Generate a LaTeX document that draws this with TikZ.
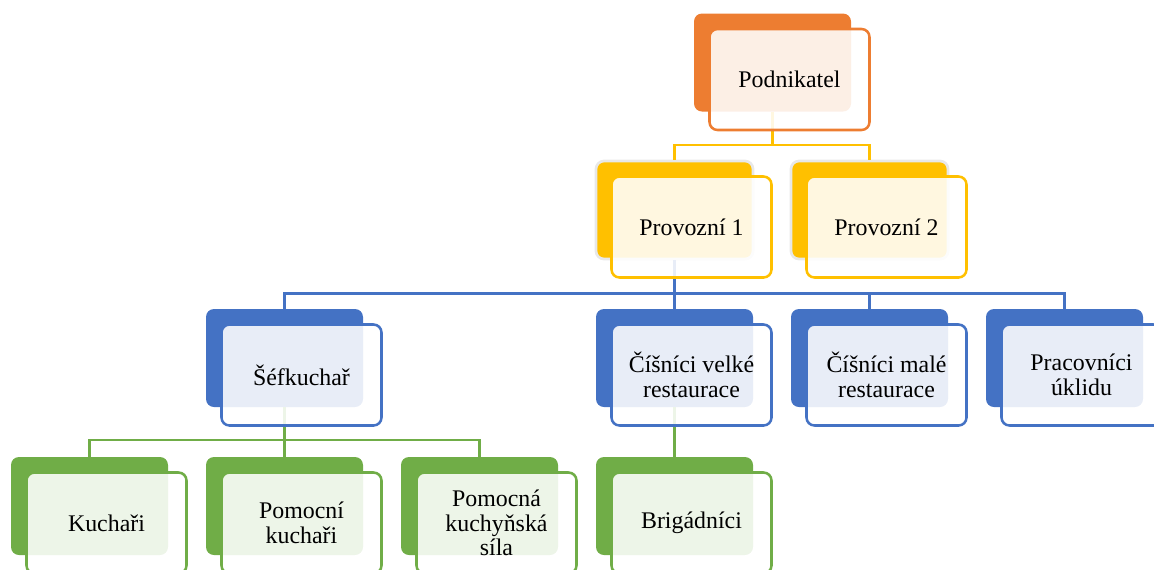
\documentclass[tikz,border=0pt]{standalone}
\usepackage{fontspec}
\setmainfont{Liberation Serif}
\usetikzlibrary{positioning, calc}
\definecolor{bossorange}{RGB}{237, 125, 49}
\definecolor{leadgold}{RGB}{255, 192, 0}
\definecolor{staffblue}{RGB}{68, 114, 196}
\definecolor{crewgreen}{RGB}{112, 173, 71}

\begin{document}
\begin{tikzpicture}[
    x=0.75pt, y=-0.75pt,
    back/.style={rectangle, rounded corners=6pt, fill=#1, draw=none,
                 minimum width=117.75pt, minimum height=73.5pt, inner sep=0pt},
    front/.style={rectangle, rounded corners=6pt, draw=#1, fill=white,
                  fill opacity=0.88, text opacity=1, line width=1.9pt,
                  minimum width=120pt, minimum height=75.75pt, inner sep=0pt,
                  align=center, font=\fontsize{17.9}{18.6}\selectfont},
    halo/.style={draw=gray!18, line width=2pt},
    link/.style={draw=#1, line width=1.8pt}
]
    \path[use as bounding box, clip] (0,0) rectangle (1154,569);

    % Back plates
    \node[back=bossorange] (ownerbg) at (772.5, 62.5) {};
    \node[back=leadgold, halo] (op1bg) at (674.5, 210) {};
    \node[back=leadgold, halo] (op2bg) at (869.5, 210) {};
    \node[back=staffblue] (chefbg) at (284.5, 358) {};
    \node[back=staffblue] (waitbigbg) at (674.5, 358) {};
    \node[back=staffblue] (waitsmallbg) at (869.5, 358) {};
    \node[back=staffblue] (cleanbg) at (1064.5, 358) {};
    \node[back=crewgreen] (cooksbg) at (89.5, 506) {};
    \node[back=crewgreen] (helpersbg) at (284.5, 506) {};
    \node[back=crewgreen] (kitchenbg) at (479.5, 506) {};
    \node[back=crewgreen] (tempsbg) at (674.5, 506) {};

    % Tree links
    \foreach \kid in {op1bg, op2bg}
        \draw[link=leadgold] (ownerbg.south) -- ++(0,33) -| (\kid.north);
    \foreach \kid in {chefbg, waitbigbg, waitsmallbg, cleanbg}
        \draw[link=staffblue] (op1bg.south) -- ++(0,33) -| (\kid.north);
    \foreach \kid in {cooksbg, helpersbg, kitchenbg}
        \draw[link=crewgreen] (chefbg.south) -- ++(0,33) -| (\kid.north);
    \draw[link=crewgreen] (waitbigbg.south) -- (tempsbg.north);

    % Front cards
    \node[front=bossorange] (owner) at ($(ownerbg)+(17,17)$) {Podnikatel};
    \node[front=leadgold] (op1) at ($(op1bg)+(17,17)$) {Provozní 1};
    \node[front=leadgold] (op2) at ($(op2bg)+(17,17)$) {Provozní 2};
    \node[front=staffblue] (chef) at ($(chefbg)+(17,17)$) {Šéfkuchař};
    \node[front=staffblue] (waitbig) at ($(waitbigbg)+(17,17)$) {Číšníci velké\\restaurace};
    \node[front=staffblue] (waitsmall) at ($(waitsmallbg)+(17,17)$) {Číšníci malé\\restaurace};
    \node[front=staffblue] (clean) at ($(cleanbg)+(17,17)$) {Pracovníci\\úklidu};
    \node[front=crewgreen] (cooks) at ($(cooksbg)+(17,17)$) {Kuchaři};
    \node[front=crewgreen] (helpers) at ($(helpersbg)+(17,17)$) {Pomocní\\kuchaři};
    \node[front=crewgreen] (kitchen) at ($(kitchenbg)+(17,17)$) {Pomocná\\kuchyňská\\síla};
    \node[front=crewgreen] (temps) at ($(tempsbg)+(17,17)$) {Brigádníci};
\end{tikzpicture}
\end{document}
